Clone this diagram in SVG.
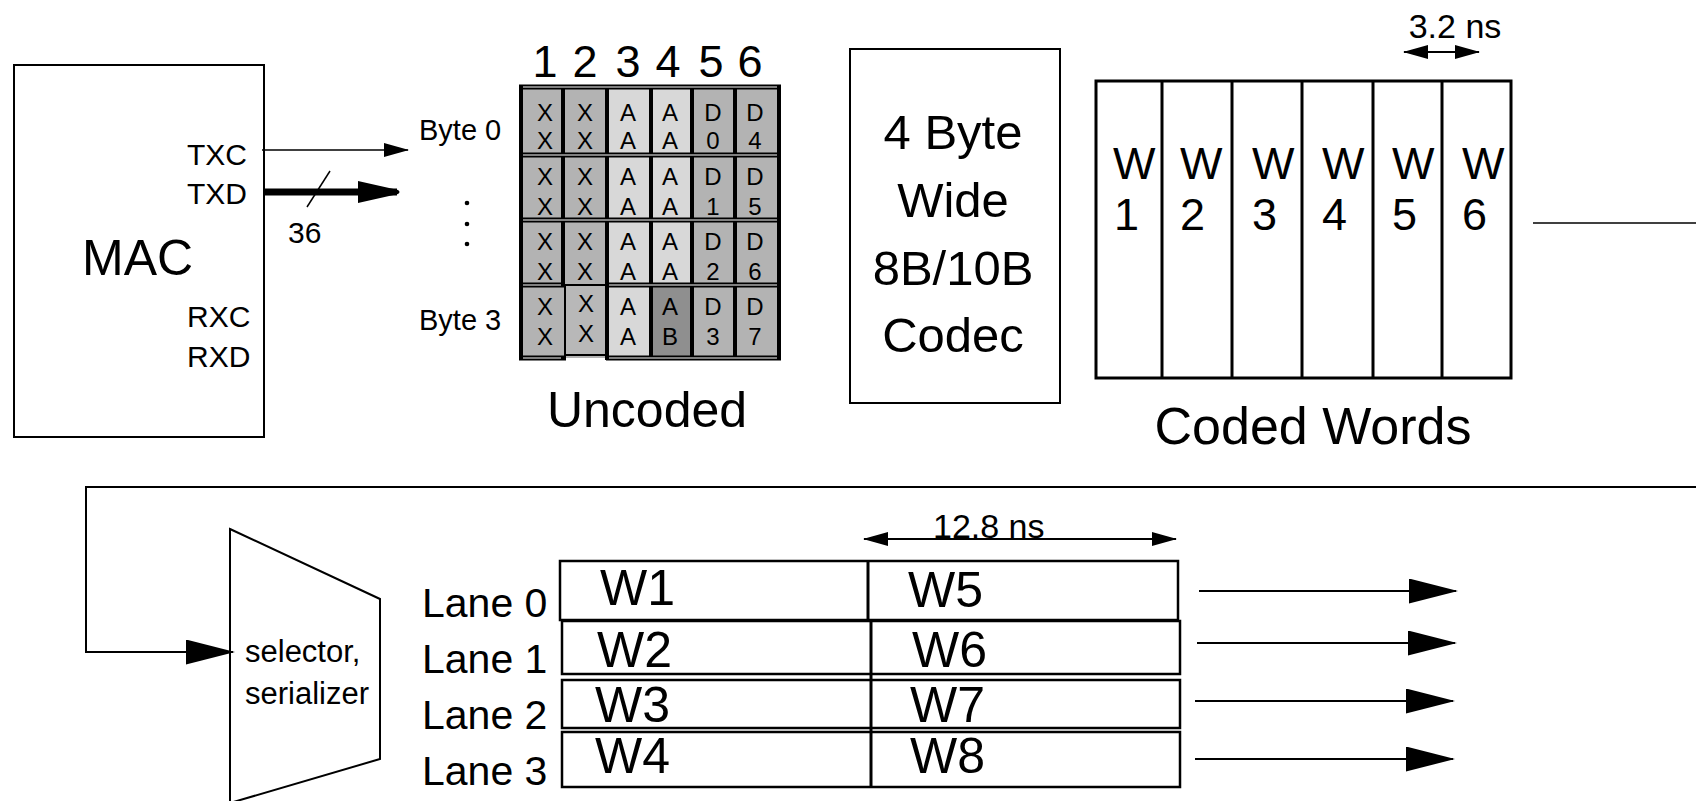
<svg xmlns="http://www.w3.org/2000/svg" width="1696" height="801" viewBox="0 0 1696 801">
<style>
.t{font-family:"Liberation Sans",Arial,Helvetica,sans-serif;fill:#000}
.box{fill:#fff;stroke:#000}
.ln{stroke:#000;fill:none}
.cx{fill:#b3b3b3}
.ca{fill:#d8d8d8}
.cb{fill:#8f8f8f}
.ct{font-family:"Liberation Sans",Arial,sans-serif;font-size:24px;text-anchor:middle;fill:#000}
.hb{stroke:#000;stroke-width:5}
.hw{stroke:#fff;stroke-width:1}
.vb{stroke:#000;stroke-width:4}
</style>
<defs>
<marker id="ah" markerUnits="userSpaceOnUse" markerWidth="26" markerHeight="14" refX="24" refY="7" orient="auto-start-reverse"><path d="M0,0L25,7L0,14z"/></marker>
<marker id="big" markerUnits="userSpaceOnUse" markerWidth="50" markerHeight="26" refX="47" refY="12.5" orient="auto"><path d="M0,0L49,12.5L0,25z"/></marker>
<marker id="fat" markerUnits="userSpaceOnUse" markerWidth="44" markerHeight="22" refX="39" refY="11" orient="auto"><path d="M0,0L40,9Q43,11 40,13L0,22z"/></marker>
</defs>
<rect width="1696" height="801" fill="#fff"/>

<g id="mac">
<rect class="box" x="14" y="65" width="250" height="372" stroke-width="2"/>
<text class="t" x="82" y="275" font-size="50">MAC</text>
<text class="t" x="187" y="165" font-size="30">TXC</text>
<text class="t" x="187" y="204" font-size="30">TXD</text>
<text class="t" x="187" y="327" font-size="30">RXC</text>
<text class="t" x="187" y="367" font-size="30">RXD</text>
</g>

<g id="bus-label">
<text class="t" x="288" y="243" font-size="30">36</text>
</g>

<g id="uncoded">
<g class="t" font-size="45" text-anchor="middle">
<text x="545" y="77">1</text><text x="585" y="77">2</text><text x="628" y="77">3</text>
<text x="668" y="77">4</text><text x="711" y="77">5</text><text x="750" y="77">6</text>
</g>
<text class="t" x="419" y="140" font-size="29">Byte 0</text>
<text class="t" x="419" y="330" font-size="29">Byte 3</text>
<circle cx="467" cy="203" r="2.3"/><circle cx="467" cy="224" r="2.3"/><circle cx="467" cy="244" r="2.3"/>
<rect class="cx" x="521" y="87" width="86" height="271"/>
<rect class="ca" x="607" y="87" width="85" height="271"/>
<rect class="cb" x="651" y="285" width="41" height="73"/>
<rect class="cx" x="692" y="87" width="87" height="271"/>
<rect x="565" y="285" width="42" height="70" fill="#b8b8b8" stroke="#000" stroke-width="2"/>
<line class="vb" x1="521" y1="85" x2="521" y2="360"/>
<line class="vb" x1="563" y1="85" x2="563" y2="285"/>
<line class="vb" x1="607" y1="85" x2="607" y2="360"/>
<line class="vb" x1="651" y1="85" x2="651" y2="360"/>
<line class="vb" x1="692" y1="85" x2="692" y2="360"/>
<line class="vb" x1="735" y1="85" x2="735" y2="360"/>
<line class="vb" x1="779" y1="85" x2="779" y2="360"/>
<line class="hb" x1="519" y1="87" x2="781" y2="87"/><line class="hw" x1="523" y1="87" x2="777" y2="87"/>
<line class="hb" x1="519" y1="155" x2="781" y2="155"/><line class="hw" x1="523" y1="155" x2="777" y2="155"/>
<line class="hb" x1="519" y1="220" x2="781" y2="220"/><line class="hw" x1="523" y1="220" x2="777" y2="220"/>
<line class="hb" x1="519" y1="285" x2="565" y2="285"/><line class="hb" x1="607" y1="285" x2="781" y2="285"/>
<line class="hw" x1="523" y1="285" x2="561" y2="285"/><line class="hw" x1="609" y1="285" x2="777" y2="285"/>
<line class="hb" x1="519" y1="358" x2="566" y2="358"/><line class="hb" x1="606" y1="358" x2="781" y2="358"/>
<line class="hw" x1="523" y1="358" x2="561" y2="358"/><line class="hw" x1="609" y1="358" x2="777" y2="358"/>
<text class="ct" x="545" y="121">X</text><text class="ct" x="545" y="149">X</text>
<text class="ct" x="585" y="121">X</text><text class="ct" x="585" y="149">X</text>
<text class="ct" x="628" y="121">A</text><text class="ct" x="628" y="149">A</text>
<text class="ct" x="670" y="121">A</text><text class="ct" x="670" y="149">A</text>
<text class="ct" x="713" y="121">D</text><text class="ct" x="713" y="149">0</text>
<text class="ct" x="755" y="121">D</text><text class="ct" x="755" y="149">4</text>
<text class="ct" x="545" y="185">X</text><text class="ct" x="545" y="215">X</text>
<text class="ct" x="585" y="185">X</text><text class="ct" x="585" y="215">X</text>
<text class="ct" x="628" y="185">A</text><text class="ct" x="628" y="215">A</text>
<text class="ct" x="670" y="185">A</text><text class="ct" x="670" y="215">A</text>
<text class="ct" x="713" y="185">D</text><text class="ct" x="713" y="215">1</text>
<text class="ct" x="755" y="185">D</text><text class="ct" x="755" y="215">5</text>
<text class="ct" x="545" y="250">X</text><text class="ct" x="545" y="280">X</text>
<text class="ct" x="585" y="250">X</text><text class="ct" x="585" y="280">X</text>
<text class="ct" x="628" y="250">A</text><text class="ct" x="628" y="280">A</text>
<text class="ct" x="670" y="250">A</text><text class="ct" x="670" y="280">A</text>
<text class="ct" x="713" y="250">D</text><text class="ct" x="713" y="280">2</text>
<text class="ct" x="755" y="250">D</text><text class="ct" x="755" y="280">6</text>
<text class="ct" x="545" y="315">X</text><text class="ct" x="545" y="345">X</text>
<text class="ct" x="586" y="312">X</text><text class="ct" x="586" y="342">X</text>
<text class="ct" x="628" y="315">A</text><text class="ct" x="628" y="345">A</text>
<text class="ct" x="670" y="315">A</text><text class="ct" x="670" y="345">B</text>
<text class="ct" x="713" y="315">D</text><text class="ct" x="713" y="345">3</text>
<text class="ct" x="755" y="315">D</text><text class="ct" x="755" y="345">7</text>
<text class="t" x="647" y="427" font-size="50" text-anchor="middle">Uncoded</text>
</g>

<g id="codec">
<rect class="box" x="850" y="49" width="210" height="354" stroke-width="2"/>
<g class="t" font-size="49" text-anchor="middle">
<text x="953" y="149">4 Byte</text>
<text x="953" y="217">Wide</text>
<text x="953" y="285">8B/10B</text>
<text x="953" y="352">Codec</text>
</g>
</g>

<g id="coded-words">
<rect class="box" x="1096" y="81" width="415" height="297" stroke-width="3"/>
<g class="ln" stroke-width="3">
<line x1="1162" y1="81" x2="1162" y2="378"/>
<line x1="1232" y1="81" x2="1232" y2="378"/>
<line x1="1302" y1="81" x2="1302" y2="378"/>
<line x1="1373" y1="81" x2="1373" y2="378"/>
<line x1="1442" y1="81" x2="1442" y2="378"/>
</g>
<g class="t" font-size="45">
<text x="1113" y="179">W</text><text x="1114" y="230">1</text>
<text x="1180" y="179">W</text><text x="1180" y="230">2</text>
<text x="1252" y="179">W</text><text x="1252" y="230">3</text>
<text x="1322" y="179">W</text><text x="1322" y="230">4</text>
<text x="1392" y="179">W</text><text x="1392" y="230">5</text>
<text x="1462" y="179">W</text><text x="1462" y="230">6</text>
</g>
<text class="t" x="1455" y="38" font-size="34" text-anchor="middle">3.2 ns</text>
<text class="t" x="1313" y="444" font-size="52" text-anchor="middle">Coded Words</text>
</g>

<g id="selector">
<polygon class="box" points="230,529 380,599 380,759 230,803" stroke-width="2"/>
<text class="t" x="245" y="662" font-size="31">selector,</text>
<text class="t" x="245" y="704" font-size="31">serializer</text>
</g>

<g id="lanes">
<g class="t" font-size="41">
<text x="422" y="617">Lane 0</text>
<text x="422" y="673">Lane 1</text>
<text x="422" y="729">Lane 2</text>
<text x="422" y="785">Lane 3</text>
</g>
<g class="box" stroke-width="2.5">
<rect x="560" y="561" width="618" height="59"/>
<rect x="562" y="621" width="618" height="53"/>
<rect x="562" y="680" width="618" height="48"/>
<rect x="562" y="732" width="618" height="55"/>
</g>
<g class="ln" stroke-width="3">
<line x1="868" y1="561" x2="868" y2="620"/>
<line x1="871" y1="621" x2="871" y2="787"/>
</g>
<g class="t" font-size="50">
<text x="600" y="605">W1</text>
<text x="597" y="667">W2</text>
<text x="595" y="722">W3</text>
<text x="595" y="773">W4</text>
<text x="908" y="607">W5</text>
<text x="912" y="667">W6</text>
<text x="910" y="722">W7</text>
<text x="910" y="773">W8</text>
</g>
<text class="t" x="933" y="538" font-size="34">12.8 ns</text>
</g>

<g id="connectors">
<line class="ln" x1="262" y1="150" x2="408" y2="150" stroke-width="1.5" marker-end="url(#ah)"/>
<line class="ln" x1="265" y1="192" x2="397" y2="192" stroke-width="7" marker-end="url(#fat)"/>
<line class="ln" x1="330" y1="171" x2="307" y2="207" stroke-width="1.5"/>
<line class="ln" x1="1404" y1="52" x2="1479" y2="52" stroke-width="2" marker-start="url(#ah)" marker-end="url(#ah)"/>
<line class="ln" x1="1533" y1="223" x2="1696" y2="223" stroke-width="1.5"/>
<polyline class="ln" points="1696,487 86,487 86,652 233,652" stroke-width="2" marker-end="url(#big)"/>
<line class="ln" x1="864" y1="539" x2="1176" y2="539" stroke-width="2" marker-start="url(#ah)" marker-end="url(#ah)"/>
<line class="ln" x1="1199" y1="591" x2="1456" y2="591" stroke-width="2" marker-end="url(#big)"/>
<line class="ln" x1="1197" y1="643" x2="1455" y2="643" stroke-width="2" marker-end="url(#big)"/>
<line class="ln" x1="1195" y1="701" x2="1453" y2="701" stroke-width="2" marker-end="url(#big)"/>
<line class="ln" x1="1195" y1="759" x2="1453" y2="759" stroke-width="2" marker-end="url(#big)"/>
</g>
</svg>
